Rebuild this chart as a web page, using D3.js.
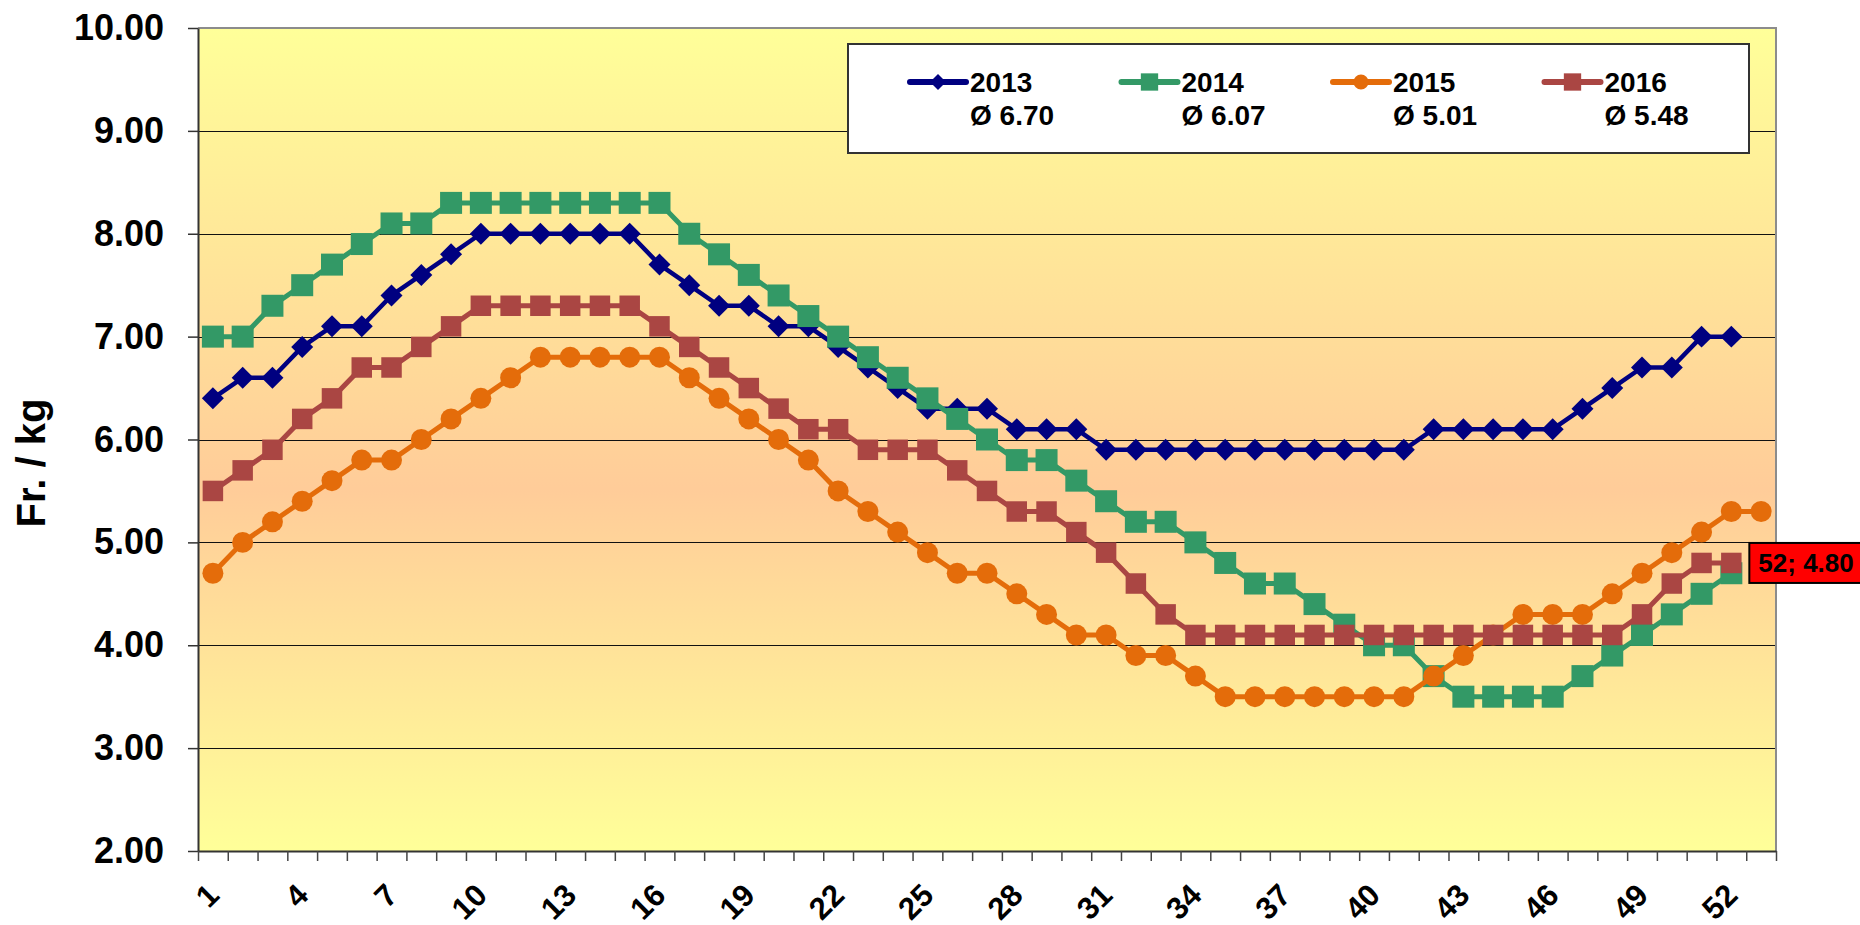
<!DOCTYPE html>
<html>
<head>
<meta charset="utf-8">
<script src="https://cdnjs.cloudflare.com/ajax/libs/d3/7.8.5/d3.min.js"></script>
<style>
body { margin: 0; background: #fff; }
svg { display: block; font-family: "Liberation Sans", Arial, sans-serif; font-weight: bold; }
</style>
</head>
<body>
<svg width="1860" height="925"></svg>
<script>
// weekly prices, Fr. / kg
var weeks = d3.range(1, 54);
var years = ["2013", "2014", "2015", "2016"];
var averages = ["6.70", "6.07", "5.01", "5.48"];
var yTicks = [2, 3, 4, 5, 6, 7, 8, 9, 10];
var xLabels = [1, 4, 7, 10, 13, 16, 19, 22, 25, 28, 31, 34, 37, 40, 43, 46, 49, 52];

var v2013 = [6.4, 6.6, 6.6, 6.9, 7.1, 7.1, 7.4, 7.6, 7.8, 8.0,
	8.0, 8.0, 8.0, 8.0, 8.0, 7.7, 7.5, 7.3, 7.3, 7.1,
	7.1, 6.9, 6.7, 6.5, 6.3, 6.3, 6.3, 6.1, 6.1, 6.1,
	5.9, 5.9, 5.9, 5.9, 5.9, 5.9, 5.9, 5.9, 5.9, 5.9,
	5.9, 6.1, 6.1, 6.1, 6.1, 6.1, 6.3, 6.5, 6.7, 6.7,
	7.0, 7.0];
var v2014 = [7.0, 7.0, 7.3, 7.5, 7.7, 7.9, 8.1, 8.1, 8.3, 8.3,
	8.3, 8.3, 8.3, 8.3, 8.3, 8.3, 8.0, 7.8, 7.6, 7.4,
	7.2, 7.0, 6.8, 6.6, 6.4, 6.2, 6.0, 5.8, 5.8, 5.6,
	5.4, 5.2, 5.2, 5.0, 4.8, 4.6, 4.6, 4.4, 4.2, 4.0,
	4.0, 3.7, 3.5, 3.5, 3.5, 3.5, 3.7, 3.9, 4.1, 4.3,
	4.5, 4.7];
var v2015 = [4.7, 5.0, 5.2, 5.4, 5.6, 5.8, 5.8, 6.0, 6.2, 6.4,
	6.6, 6.8, 6.8, 6.8, 6.8, 6.8, 6.6, 6.4, 6.2, 6.0,
	5.8, 5.5, 5.3, 5.1, 4.9, 4.7, 4.7, 4.5, 4.3, 4.1,
	4.1, 3.9, 3.9, 3.7, 3.5, 3.5, 3.5, 3.5, 3.5, 3.5,
	3.5, 3.7, 3.9, 4.1, 4.3, 4.3, 4.3, 4.5, 4.7, 4.9,
	5.1, 5.3, 5.3];
var v2016 = [5.5, 5.7, 5.9, 6.2, 6.4, 6.7, 6.7, 6.9, 7.1, 7.3,
	7.3, 7.3, 7.3, 7.3, 7.3, 7.1, 6.9, 6.7, 6.5, 6.3,
	6.1, 6.1, 5.9, 5.9, 5.9, 5.7, 5.5, 5.3, 5.3, 5.1,
	4.9, 4.6, 4.3, 4.1, 4.1, 4.1, 4.1, 4.1, 4.1, 4.1,
	4.1, 4.1, 4.1, 4.1, 4.1, 4.1, 4.1, 4.1, 4.3, 4.6,
	4.8, 4.8];

var series = [
	{name: years[0], avg: averages[0], values: v2013, color: "#000080", shape: "diamond", size: 242, legSize: 130, lw: 4.5},
	{name: years[1], avg: averages[1], values: v2014, color: "#339966", shape: "square", size: 484, legSize: 300, lw: 5},
	{name: years[2], avg: averages[2], values: v2015, color: "#E46C0A", shape: "circle", size: 346, legSize: 180, lw: 5},
	{name: years[3], avg: averages[3], values: v2016, color: "#AA4643", shape: "square", size: 420, legSize: 300, lw: 5}
];

var svg = d3.select("svg"),
	margin = {top: 28, right: 84, bottom: 74, left: 198},
	width = +svg.attr("width") - margin.left - margin.right,
	height = +svg.attr("height") - margin.top - margin.bottom,
	g = svg.append("g").attr("transform", "translate(" + margin.left + "," + margin.top + ")");

var x = d3.scaleLinear().domain([0.5, weeks.length + 0.5]).range([0, width]);
var y = d3.scaleLinear().domain([2, 10]).range([height, 0]);

// plot background: yellow - peach - yellow
var grad = svg.append("defs").append("linearGradient")
	.attr("id", "bg")
	.attr("x1", 0).attr("y1", 0).attr("x2", 0).attr("y2", 1);
grad.append("stop").attr("offset", "0").attr("stop-color", "#FFFF99");
grad.append("stop").attr("offset", "0.56").attr("stop-color", "#FFCC99");
grad.append("stop").attr("offset", "1").attr("stop-color", "#FFFF99");

g.append("rect")
	.attr("width", width)
	.attr("height", height)
	.attr("fill", "url(#bg)");

// gridlines
g.append("g")
	.selectAll("line")
	.data(yTicks.slice(1, -1))
	.enter().append("line")
	.attr("x1", 0)
	.attr("x2", width)
	.attr("y1", function (d) { return Math.round(y(d)) + 0.5; })
	.attr("y2", function (d) { return Math.round(y(d)) + 0.5; })
	.attr("stroke", "#111")
	.attr("stroke-width", 1.2);

// top and right border
g.append("path")
	.attr("d", "M0," + y(10) + "H" + width + "V" + height)
	.attr("fill", "none")
	.attr("stroke", "#8c8c8c")
	.attr("stroke-width", 2);

// y axis
var yAxis = g.append("g")
	.call(d3.axisLeft(y).tickValues(yTicks).tickSize(10).tickSizeOuter(0).tickPadding(24).tickFormat(d3.format(".2f")));
yAxis.select(".domain").attr("stroke", "#333").attr("stroke-width", 2);
yAxis.selectAll(".tick line").attr("stroke", "#333").attr("stroke-width", 1.5);
yAxis.selectAll("text").attr("font-size", 36).attr("font-family", null).attr("fill", "#000");

// x axis: ticks between weeks
var xAxis = g.append("g")
	.attr("transform", "translate(0," + height + ")")
	.call(d3.axisBottom(x).tickValues(d3.range(0.5, weeks.length + 1, 1)).tickSize(10).tickSizeOuter(0).tickFormat(""));
xAxis.select(".domain").attr("stroke", "#333").attr("stroke-width", 2);
xAxis.selectAll(".tick line").attr("stroke", "#444").attr("stroke-width", 1.5);

g.append("g")
	.selectAll("text")
	.data(xLabels)
	.enter().append("text")
	.attr("transform", function (d) {
		return "translate(" + (x(d) + 8) + "," + (height + 46) + ") rotate(-45)";
	})
	.attr("text-anchor", "end")
	.attr("font-size", 31)
	.text(function (d) { return d; });

// axis title
svg.append("text")
	.attr("transform", "translate(45,463) rotate(-90)")
	.attr("text-anchor", "middle")
	.attr("font-size", 40)
	.text("Fr. / kg");

function marker(s, size) {
	var type = s.shape === "circle" ? d3.symbolCircle : d3.symbolSquare;
	return d3.symbol().type(type).size(size)();
}

var line = d3.line()
	.x(function (d, i) { return x(i + 1); })
	.y(function (d) { return y(d); });

var sg = g.append("g")
	.selectAll("g")
	.data(series)
	.enter().append("g");

sg.append("path")
	.attr("d", function (d) { return line(d.values); })
	.attr("fill", "none")
	.attr("stroke", function (d) { return d.color; })
	.attr("stroke-width", function (d) { return d.lw; })
	.attr("stroke-linejoin", "round");

sg.each(function (s) {
	d3.select(this).selectAll(".pt")
		.data(s.values)
		.enter().append("path")
		.attr("class", "pt")
		.attr("d", marker(s, s.size))
		.attr("fill", s.color)
		.attr("transform", function (d, i) {
			return "translate(" + x(i + 1) + "," + y(d) + ")" + (s.shape === "diamond" ? " rotate(45)" : "");
		});
});

// data label on last 2016 point
var lastWeek = v2016.length, lastVal = v2016[lastWeek - 1];
var lab = g.append("g")
	.attr("transform", "translate(" + (x(lastWeek) + 18) + "," + y(lastVal) + ")");
lab.append("rect")
	.attr("x", 0)
	.attr("y", -20)
	.attr("width", 116)
	.attr("height", 40)
	.attr("fill", "#FF0000")
	.attr("stroke", "#000")
	.attr("stroke-width", 2);
lab.append("text")
	.attr("x", 9)
	.attr("y", 9)
	.attr("font-size", 26)
	.text(lastWeek + "; " + d3.format(".2f")(lastVal));

// legend
svg.append("rect")
	.attr("x", 848)
	.attr("y", 44)
	.attr("width", 901)
	.attr("height", 109)
	.attr("fill", "#fff")
	.attr("stroke", "#333")
	.attr("stroke-width", 2);

var legend = svg.append("g")
	.selectAll("g")
	.data(series)
	.enter().append("g")
	.attr("transform", function (d, i) {
		return "translate(" + (910 + i * 211.5) + ",82)";
	});

legend.append("line")
	.attr("x1", 0)
	.attr("x2", 56)
	.attr("stroke", function (d) { return d.color; })
	.attr("stroke-width", 6)
	.attr("stroke-linecap", "round");

legend.append("path")
	.attr("d", function (d) { return marker(d, d.legSize); })
	.attr("fill", function (d) { return d.color; })
	.attr("transform", function (d) { return "translate(28,0)" + (d.shape === "diamond" ? " rotate(45)" : ""); });

legend.append("text")
	.attr("x", 60)
	.attr("y", 10)
	.attr("font-size", 28)
	.text(function (d) { return d.name; });

legend.append("text")
	.attr("x", 60)
	.attr("y", 43)
	.attr("font-size", 28)
	.text(function (d) { return "Ø " + d.avg; });
</script>
</body>
</html>
